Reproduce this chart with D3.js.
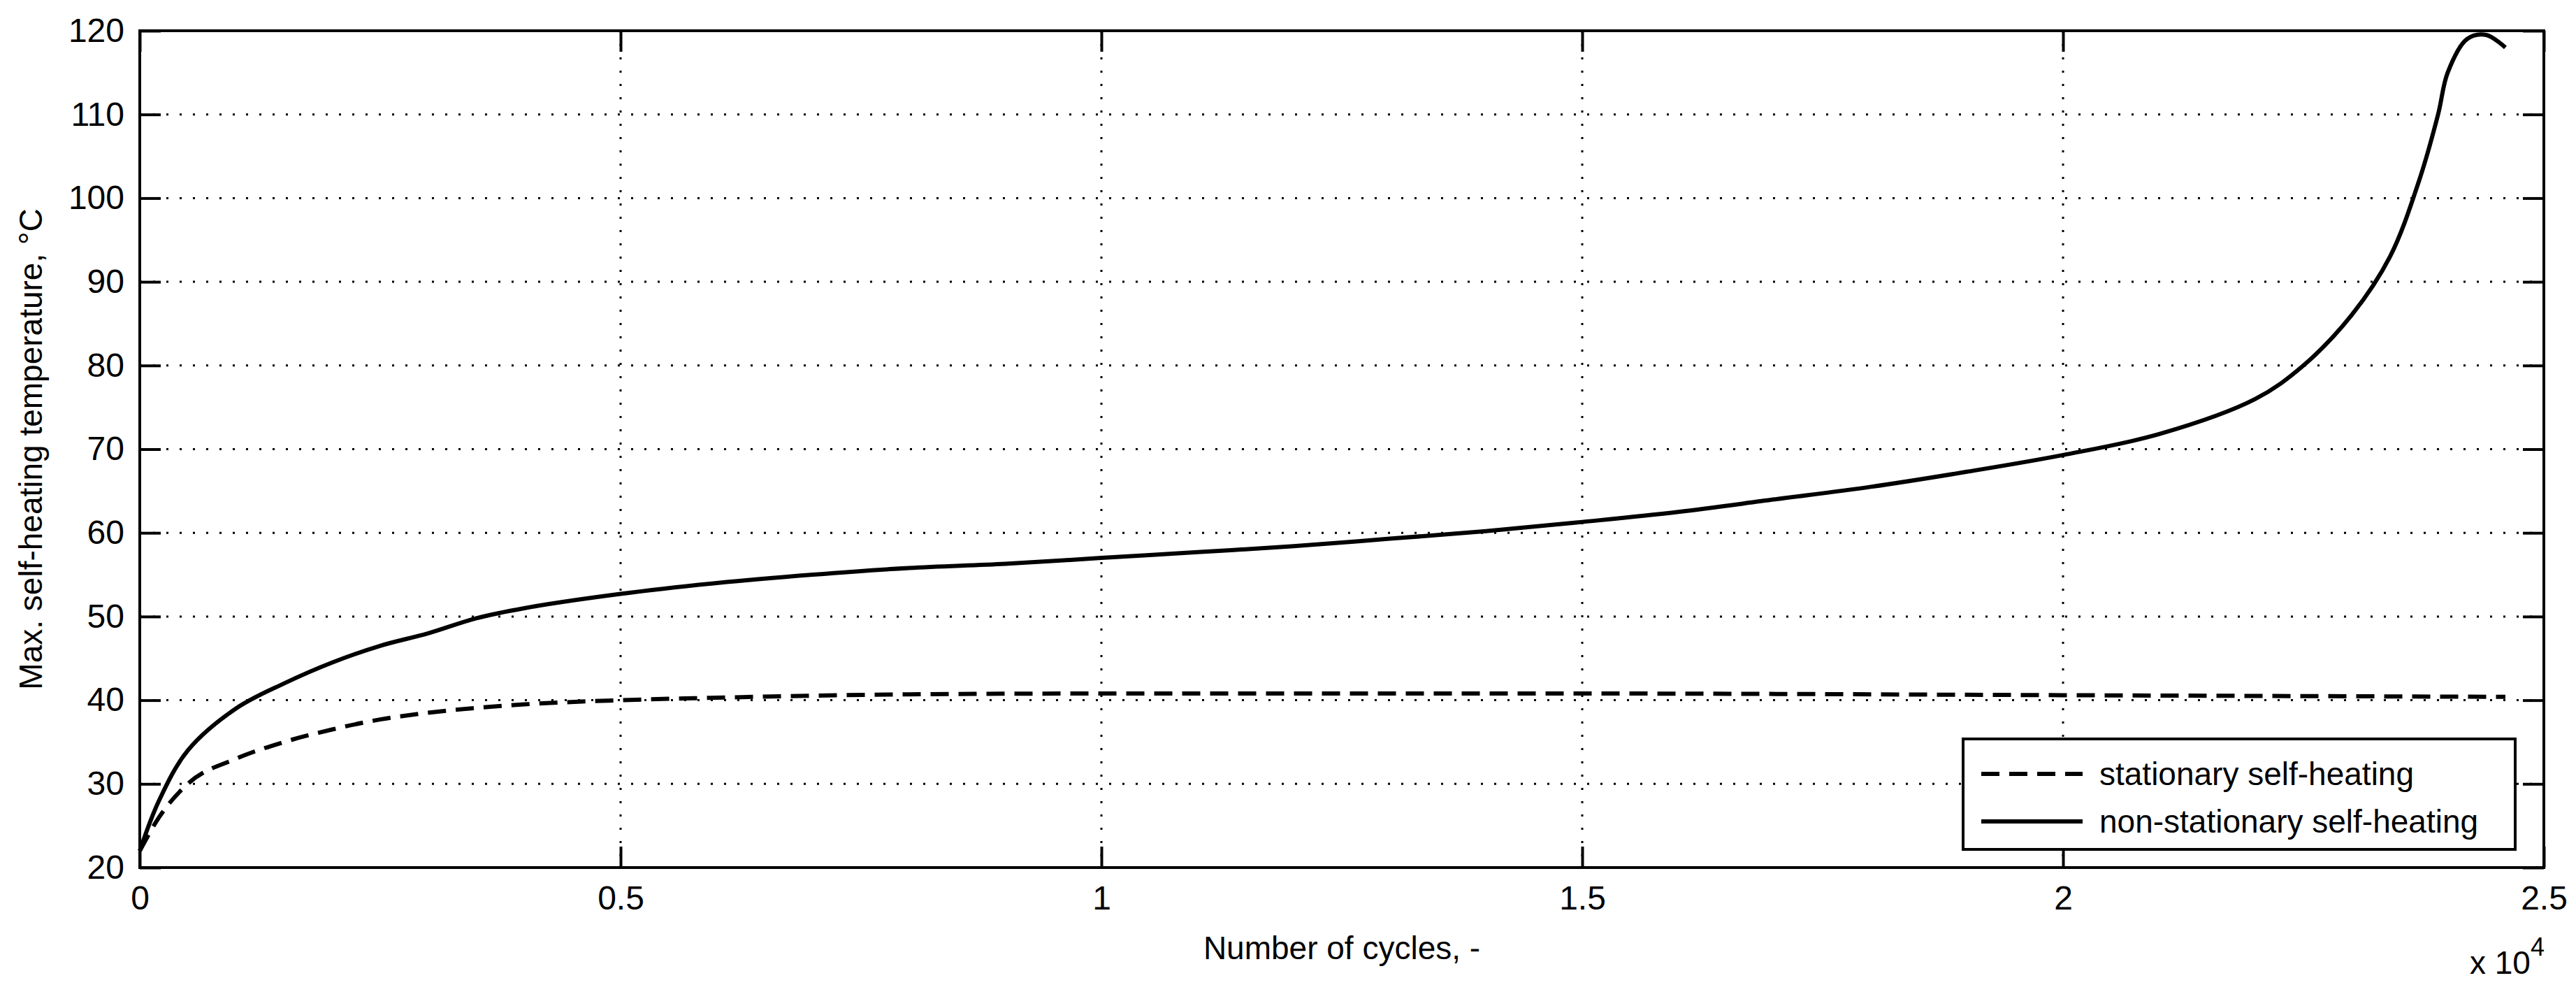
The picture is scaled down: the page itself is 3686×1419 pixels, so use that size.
<!DOCTYPE html>
<html>
<head>
<meta charset="utf-8">
<script src="https://cdn.jsdelivr.net/npm/d3@7"></script>
<style>
body { margin: 0; background: #fff; }
text { font-family: "Liberation Sans Narrow", "Liberation Sans", Arial, sans-serif; fill: #000; }
</style>
</head>
<body>
<script>
// data (cycles, °C)
var nsCycles = [0, 200, 500, 1000, 1500, 2000, 2500, 3000, 3500, 4000, 5000, 6000, 7000, 8000, 9000, 10000,
  11000, 12000, 13000, 14000, 15000, 16000, 17000, 18000, 19000, 20000, 21000, 22000, 22500, 23000,
  23400, 23700, 23900, 24000, 24200, 24400, 24600];
var nsTemp = [22, 28, 34, 39, 42, 44.5, 46.5, 48, 49.8, 51, 52.7, 54, 55, 55.8, 56.3, 57,
  57.7, 58.4, 59.3, 60.2, 61.3, 62.5, 64, 65.5, 67.3, 69.3, 71.8, 76, 80, 86,
  93, 102, 110, 115, 119, 119.5, 118];
var stCycles = [0, 200, 500, 1000, 1500, 2000, 2500, 3000, 4000, 5000, 6000, 8000, 10000, 15000, 20000, 24600];
var stTemp = [22, 26, 30, 33, 35, 36.5, 37.7, 38.5, 39.5, 40, 40.3, 40.7, 40.8, 40.8, 40.6, 40.4];
var xTicks = [0, 5000, 10000, 15000, 20000, 25000];
var xTickLabels = ["0", "0.5", "1", "1.5", "2", "2.5"];
var yTicks = [20, 30, 40, 50, 60, 70, 80, 90, 100, 110, 120];
var legendLabels = ["stationary self-heating", "non-stationary self-heating"];

var width = 3686, height = 1419;
var L = 200, R = 3640, T = 44, B = 1241;

var svg = d3.select("body").append("svg")
  .attr("width", width).attr("height", height);

var x = d3.scaleLinear().domain([0, 25000]).range([L, R]);
var y = d3.scaleLinear().domain([20, 120]).range([B, T]);

// grid
svg.append("g").selectAll("line").data(xTicks.slice(1, -1)).join("line")
  .attr("x1", d => x(d)).attr("x2", d => x(d)).attr("y1", T).attr("y2", B)
  .attr("stroke", "#000").attr("stroke-width", 3).attr("stroke-dasharray", "3,16");
svg.append("g").selectAll("line").data(yTicks.slice(1, -1)).join("line")
  .attr("x1", L).attr("x2", R).attr("y1", d => y(d)).attr("y2", d => y(d))
  .attr("stroke", "#000").attr("stroke-width", 3).attr("stroke-dasharray", "3,16");

// axes with inward ticks
var xAxis = d3.axisBottom(x).tickValues(xTicks).tickSize(-30).tickPadding(26)
  .tickFormat((d, i) => xTickLabels[i]);
var gx = svg.append("g").attr("transform", "translate(0," + B + ")").call(xAxis);
var yAxis = d3.axisLeft(y).tickValues(yTicks).tickSize(-30).tickPadding(22);
var gy = svg.append("g").attr("transform", "translate(" + L + ",0)").call(yAxis);
// mirrored ticks on top / right
svg.append("g").attr("transform", "translate(0," + T + ")")
  .call(d3.axisTop(x).tickValues(xTicks).tickSize(-30).tickFormat(""));
svg.append("g").attr("transform", "translate(" + R + ",0)")
  .call(d3.axisRight(y).tickValues(yTicks).tickSize(-30).tickFormat(""));
svg.selectAll(".domain").remove();
svg.selectAll(".tick line").attr("stroke", "#000").attr("stroke-width", 4);
svg.selectAll(".tick text").attr("font-size", 48).attr("fill", "#000")
  .style("font-family", "'Liberation Sans Narrow','Liberation Sans',Arial,sans-serif");
gx.selectAll(".tick text").attr("dy", "0.71em");

svg.append("rect").attr("x", L).attr("y", T).attr("width", R - L).attr("height", B - T)
  .attr("fill", "none").attr("stroke", "#000").attr("stroke-width", 4);

// series
var line = d3.line().x(d => x(d[0])).y(d => y(d[1])).curve(d3.curveMonotoneX);
svg.append("path").datum(d3.zip(stCycles, stTemp)).attr("d", line)
  .attr("fill", "none").attr("stroke", "#000").attr("stroke-width", 6).attr("stroke-dasharray", "26,14");
svg.append("path").datum(d3.zip(nsCycles, nsTemp)).attr("d", d3.line().x(d => x(d[0])).y(d => y(d[1])).curve(d3.curveCatmullRom))
  .attr("fill", "none").attr("stroke", "#000").attr("stroke-width", 6);

// labels
svg.append("text").attr("x", (L + R) / 2).attr("y", 1372).attr("text-anchor", "middle")
  .attr("font-size", 46).text("Number of cycles, -");
svg.append("text").attr("transform", "translate(60," + (T + B) / 2 + ") rotate(-90)")
  .attr("text-anchor", "middle").attr("font-size", 46).text("Max. self-heating temperature, °C");
var ex = svg.append("text").attr("x", 3534).attr("y", 1393).attr("font-size", 46);
ex.append("tspan").text("x 10");
ex.append("tspan").attr("dy", -26).attr("font-size", 36).text("4");

// legend
var lg = svg.append("g");
lg.append("rect").attr("x", 2809).attr("y", 1057).attr("width", 790).attr("height", 158)
  .attr("fill", "#fff").attr("stroke", "#000").attr("stroke-width", 4);
legendLabels.forEach(function (t, i) {
  var yy = 1057 + 50 + i * 68;
  lg.append("line").attr("x1", 2835).attr("x2", 2980).attr("y1", yy).attr("y2", yy)
    .attr("stroke", "#000").attr("stroke-width", 6).attr("stroke-dasharray", i === 0 ? "26,14" : null);
  lg.append("text").attr("x", 3004).attr("y", yy + 16).attr("font-size", 46).text(t);
});
</script>
</body>
</html>
